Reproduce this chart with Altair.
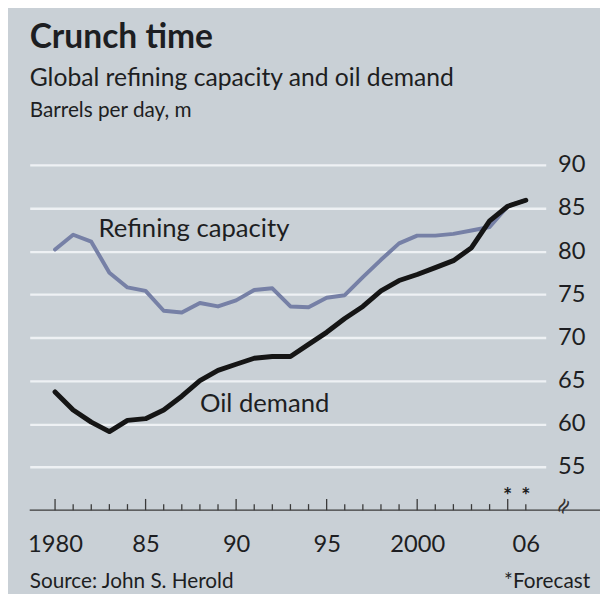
import altair as alt
import pandas as pd

# ---------------- data ----------------
years = list(range(1980, 2007))
refining = [80.2, 81.9, 81.1, 77.5, 75.8, 75.4, 73.1, 72.9, 74.0, 73.6,
            74.3, 75.5, 75.7, 73.6, 73.5, 74.6, 74.9, 77.0, 79.0, 80.9,
            81.8, 81.8, 82.0, 82.4, 82.8, 85.2, 85.9]
demand = [63.7, 61.6, 60.2, 59.1, 60.4, 60.6, 61.6, 63.2, 65.0, 66.2,
          66.9, 67.6, 67.8, 67.8, 69.2, 70.6, 72.2, 73.6, 75.4, 76.6,
          77.3, 78.1, 78.9, 80.4, 83.5, 85.2, 85.9]
series_names = ["Refining capacity", "Oil demand"]
series_colors = ["#7680a6", "#151515"]

y_ticks = [55, 60, 65, 70, 75, 80, 85, 90]
x_label_years = [1980, 1985, 1990, 1995, 2000, 2006]
x_label_text = ["1980", "85", "90", "95", "2000", "06"]
major_tick_years = [1980, 1985, 1990, 1995, 2000, 2005]
forecast_years = [2005, 2006]
label_x = [1982.4, 1988.0]
label_y = [82.5, 62.3]

title_text = "Crunch time"
subtitle_text = "Global refining capacity and oil demand"
unit_text = "Barrels per day, m"
source_text = "Source: John S. Herold"
note_text = "*Forecast"

x_domain = [1978.6, 2007.1]
y_domain = [50, 90]

FONT = "Lato"
TXT = "#1d1e22"
BG = "#c9d0d6"

# ---------------- tables ----------------
df = pd.DataFrame({
    "year": years * 2,
    "value": refining + demand,
    "series": [series_names[0]] * len(years) + [series_names[1]] * len(years),
})
minor_df = pd.DataFrame({"year": [y for y in years if y not in major_tick_years]})
major_df = pd.DataFrame({"year": major_tick_years})
star_df = pd.DataFrame({"year": forecast_years})
lab_df = pd.DataFrame({"series": series_names, "year": label_x, "value": label_y})
one = pd.DataFrame({"a": [0]})

xs = alt.Scale(domain=x_domain, nice=False, zero=False)
ys = alt.Scale(domain=y_domain, nice=False, zero=False)

label_expr = " : ".join(
    f"datum.value == {y} ? '{t}'" for y, t in zip(x_label_years, x_label_text)
) + " : ''"

x_axis = alt.Axis(
    values=x_label_years, labelExpr=label_expr, title=None, grid=False,
    domain=False, ticks=False, tickSize=0, labelPadding=35,
    labelBaseline="middle", labelFontSize=24, labelColor=TXT, labelFont=FONT,
    labelFlush=False, labelOverlap=False)
y_axis = alt.Axis(
    orient="right", values=y_ticks, title=None, grid=True,
    gridColor="#eef1f4", gridWidth=2.3, domain=False, ticks=False, tickSize=0,
    labelPadding=12, labelFontSize=24, labelColor=TXT, labelFont=FONT,
    labelAlign="left", labelBaseline="middle")

lines = alt.Chart(df).mark_line(strokeCap="round", strokeJoin="round").encode(
    x=alt.X("year:Q", scale=xs, axis=x_axis),
    y=alt.Y("value:Q", scale=ys, axis=y_axis),
    color=alt.Color("series:N", scale=alt.Scale(domain=series_names, range=series_colors), legend=None),
    strokeWidth=alt.StrokeWidth("series:N", scale=alt.Scale(domain=series_names, range=[4, 5]), legend=None),
    detail="series:N",
)

axis_line = alt.Chart(one).mark_rule(color="#3a3a3a", strokeWidth=1.3).encode(
    x=alt.value(0),
    x2=alt.X2Datum(2006),
    y=alt.YDatum(50, scale=ys),
)

minor_ticks = alt.Chart(minor_df).mark_rule(color="#3a3a3a", strokeWidth=1.3).encode(
    x=alt.X("year:Q", scale=xs),
    y=alt.YDatum(50, scale=ys),
    y2=alt.Y2Datum(50.7),
)
major_ticks = alt.Chart(major_df).mark_rule(color="#3a3a3a", strokeWidth=1.3).encode(
    x=alt.X("year:Q", scale=xs),
    y=alt.YDatum(50, scale=ys),
    y2=alt.Y2Datum(51.3),
)

stars = alt.Chart(star_df).mark_text(
    text="*", font=FONT, fontSize=22, fontWeight="bold", color=TXT, dy=-3, baseline="middle"
).encode(
    x=alt.X("year:Q", scale=xs),
    y=alt.YDatum(51.3, scale=ys),
)

series_labels = alt.Chart(lab_df).mark_text(
    font=FONT, fontSize=26, color=TXT, align="left", baseline="middle"
).encode(
    x=alt.X("year:Q", scale=xs),
    y=alt.Y("value:Q", scale=ys),
    text="series:N",
)

def ann(text, x, y, size, weight="normal", align="left", angle=0, font=FONT):
    return alt.Chart(one).mark_text(
        text=text, font=font, fontSize=size, fontWeight=weight, color=TXT,
        align=align, baseline="alphabetic", angle=angle,
    ).encode(x=alt.value(x), y=alt.value(y))

title = ann(title_text, 0, -118, 34, "bold")
subtitle = ann(subtitle_text, 0, -80, 25)
unit = ann(unit_text, 0, -48, 21)
source = ann(source_text, 0, 429, 21)
note = ann(note_text, 568, 429, 21, align="right")
brk = alt.Chart(one).mark_text(
    text="≈", font="DejaVu Sans", fontSize=22, color="#333", angle=300, baseline="middle", align="center"
).encode(x=alt.value(541), y=alt.value(346))

chart = alt.layer(
    lines, axis_line, minor_ticks, major_ticks, stars, series_labels,
    title, subtitle, unit, source, note, brk,
).properties(
    width=523, height=350,
    padding={"left": 22, "top": 155, "right": 55, "bottom": 81},
    autosize=alt.AutoSizeParams(type="none"),
    background=BG,
).configure_view(stroke=None)

chart.save("out.html", embed_options={"renderer": "svg", "actions": False})
